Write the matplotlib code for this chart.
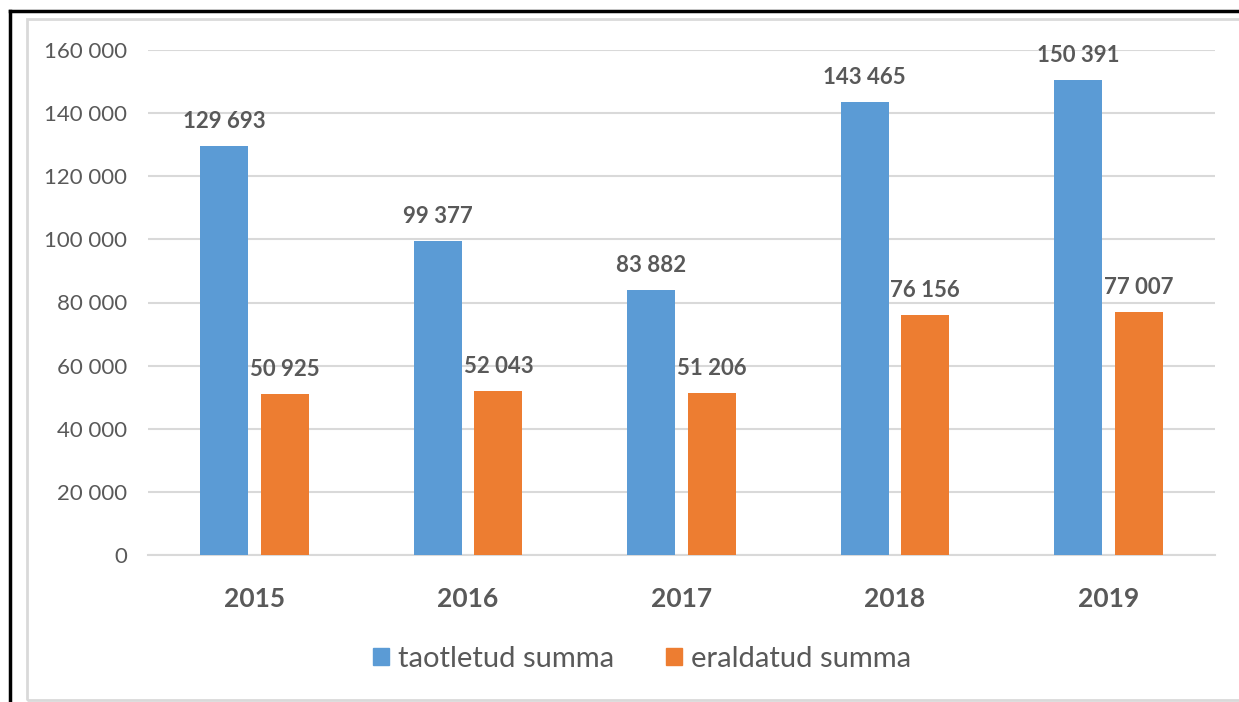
import matplotlib.pyplot as plt
from matplotlib.lines import Line2D
from matplotlib.patches import Rectangle, Patch
import numpy as np

plt.rcParams['font.family'] = ['Lato', 'DejaVu Sans']

years = ['2015', '2016', '2017', '2018', '2019']
taotletud = [129693, 99377, 83882, 143465, 150391]
eraldatud = [50925, 52043, 51206, 76156, 77007]
labels = ['taotletud summa', 'eraldatud summa']
colors = ['#5B9BD5', '#ED7D31']
text_color = '#595959'


def fmt(v):
    return '{:,}'.format(v).replace(',', ' ')


fig = plt.figure(figsize=(12.39, 7.02), dpi=100)

# frame around the chart
fig.add_artist(Rectangle((27 / 1239, 2 / 702), 1.2, 681 / 702, transform=fig.transFigure,
                         fill=False, edgecolor='#d9d9d9', linewidth=2))
fig.add_artist(Line2D([10 / 1239, 1], [1 - 11 / 702, 1 - 11 / 702], transform=fig.transFigure,
                      color='black', linewidth=2.5))
fig.add_artist(Line2D([10 / 1239, 10 / 1239], [0, 1 - 11 / 702], transform=fig.transFigure,
                      color='black', linewidth=2.5))

ax = fig.add_axes([148 / 1239, 1 - 555 / 702, (1215 - 148) / 1239, (555 - 50) / 702])

x = np.arange(len(years))
w = 0.225
off = 0.142
b1 = ax.bar(x - off, taotletud, w, color=colors[0], zorder=3)
b2 = ax.bar(x + off, eraldatud, w, color=colors[1], zorder=3)

for bars, vals in ((b1, taotletud), (b2, eraldatud)):
    for bar, v in zip(bars, vals):
        ax.annotate(fmt(v), (bar.get_x() + bar.get_width() / 2, v), xytext=(0, 10),
                    textcoords='offset points', ha='center', va='bottom',
                    fontsize=16, fontweight='bold', color=text_color)

ax.set_xlim(-0.5, len(years) - 0.5)
ax.set_ylim(0, 160000)
ax.set_yticks(np.arange(0, 160001, 20000))
ax.set_yticklabels([fmt(v) for v in range(0, 160001, 20000)], fontsize=16, color=text_color)
ax.set_xticks(x)
ax.set_xticklabels(years, fontsize=19, fontweight='bold', color=text_color)
ax.tick_params(axis='both', length=0)
ax.tick_params(axis='y', pad=15)
ax.tick_params(axis='x', pad=23)

ax.grid(axis='y', color='#d9d9d9', linewidth=1.5, zorder=0)
for s in ['top', 'right', 'left']:
    ax.spines[s].set_visible(False)
ax.spines['bottom'].set_color('#d9d9d9')
ax.spines['bottom'].set_linewidth(1.5)

handles = [Patch(color=c) for c in colors]
fig.legend(handles, labels, loc='center', bbox_to_anchor=(642 / 1239, 1 - 659 / 702),
           ncol=2, frameon=False, fontsize=21, labelcolor=text_color,
           handlelength=0.55, handleheight=0.55, handletextpad=0.3, columnspacing=1.8)

fig.savefig('out.png', dpi=100)
